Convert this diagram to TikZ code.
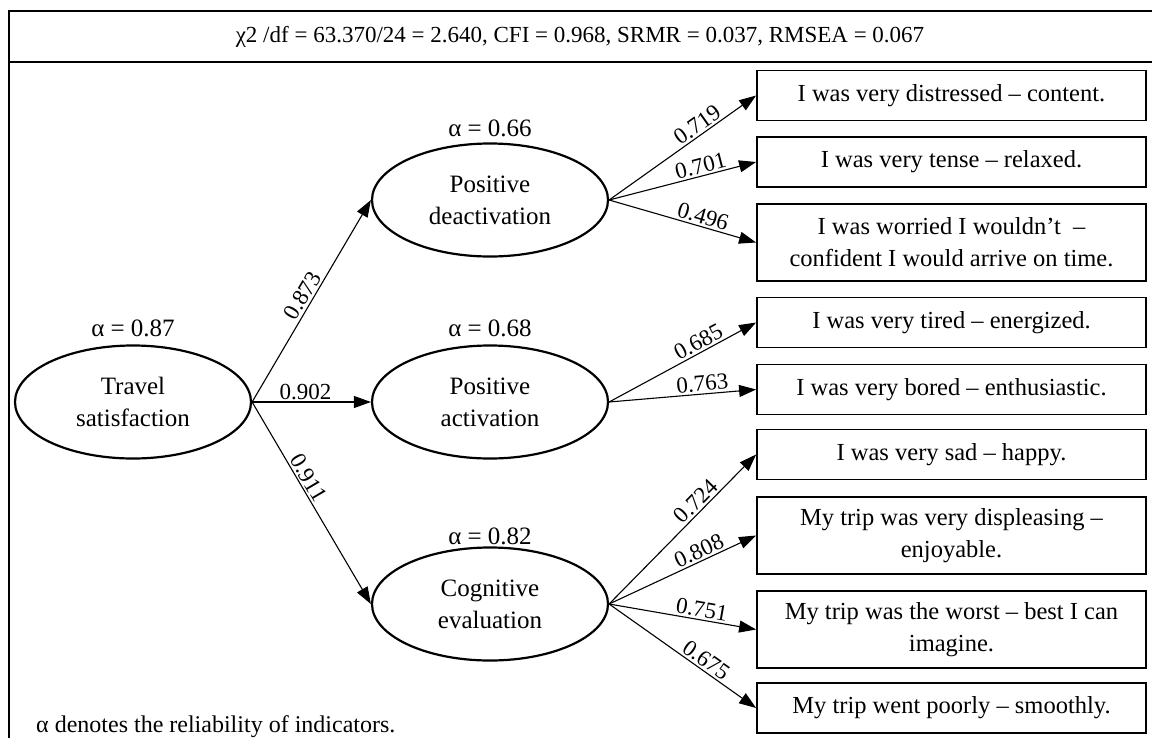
\documentclass[tikz,border=0pt]{standalone}
\usepackage{fontspec}
\setmainfont{Liberation Serif}
\usetikzlibrary{shapes.geometric,arrows.meta}

\begin{document}
\begin{tikzpicture}[x=1pt,y=-1pt,
  latent/.style={draw,ellipse,line width=2.2pt,minimum width=236pt,minimum height=113pt,
    inner sep=0pt,align=center,font=\fontsize{25}{32}\selectfont},
  item/.style={draw,rectangle,line width=1.8pt,minimum width=389pt,inner sep=0pt,
    align=center,font=\fontsize{24.5}{32}\selectfont},
  oneline/.style={item,minimum height=50pt},
  twoline/.style={item,minimum height=77pt},
  causal/.style={line width=1.1pt,-{Triangle[length=17pt,width=12pt]}},
  load/.style={font=\fontsize{23}{23}\selectfont,sloped,above,inner sep=2pt},
  rel/.style={font=\fontsize{25}{25}\selectfont,inner sep=0pt},
]
\useasboundingbox (0,0) rectangle (1152,737);
\clip (0,0) rectangle (1152,737);

% outer frame and fit-index header row
\draw[line width=2.5pt] (9,760) -- (9,11) -- (1170,11);
\draw[line width=1.8pt] (9,62) -- (1170,62);
\node[font=\fontsize{23}{23}\selectfont] (fit) at (580,37)
  {χ2 /df = 63.370/24 = 2.640, CFI = 0.968, SRMR = 0.037, RMSEA = 0.067};

% latent constructs
\node[latent] (ts) at (133,402) {Travel\\satisfaction};
\node[latent] (pd) at (490,200) {Positive\\deactivation};
\node[latent] (pa) at (490,402) {Positive\\activation};
\node[latent] (ce) at (490,604) {Cognitive\\evaluation};

% reliabilities
\node[rel] (rts) at (133,328) {α = 0.87};
\node[rel] (rpd) at (490,128) {α = 0.66};
\node[rel] (rpa) at (490,328) {α = 0.68};
\node[rel] (rce) at (490,536) {α = 0.82};

% indicators
\node[oneline] (i1) at (951.5,95.5)  {I was very distressed – content.};
\node[oneline] (i2) at (951.5,162)   {I was very tense – relaxed.};
\node[twoline] (i3) at (951.5,242.5) {I was worried I wouldn’t\ \ –\\confident I would arrive on time.};
\node[oneline] (i4) at (951.5,322.5) {I was very tired – energized.};
\node[oneline] (i5) at (951.5,389.5) {I was very bored – enthusiastic.};
\node[oneline] (i6) at (951.5,454.5) {I was very sad – happy.};
\node[twoline] (i7) at (951.5,535.5) {My trip was very displeasing –\\enjoyable.};
\node[twoline] (i8) at (951.5,629.5) {My trip was the worst – best I can\\imagine.};
\node[oneline] (i9) at (951.5,708)   {My trip went poorly – smoothly.};

% structural paths
\draw[causal] (ts.east) -- node[load,pos=0.5] {0.873} (pd.west);
\draw[causal] (ts.east) -- node[load,pos=0.45] {0.902} (pa.west);
\draw[causal] (ts.east) -- node[load,pos=0.4] {0.911} (ce.west);

% measurement paths
\draw[causal] (pd.east) -- node[load,pos=0.64] {0.719} (i1.west);
\draw[causal] (pd.east) -- node[load,pos=0.64] {0.701} (i2.west);
\draw[causal] (pd.east) -- node[load,pos=0.62] {0.496} (i3.west);
\draw[causal] (pa.east) -- node[load,pos=0.64] {0.685} (i4.west);
\draw[causal] (pa.east) -- node[load,pos=0.64] {0.763} (i5.west);
\draw[causal] (ce.east) -- node[load,pos=0.64] {0.724} (i6.west);
\draw[causal] (ce.east) -- node[load,pos=0.64] {0.808} (i7.west);
\draw[causal] (ce.east) -- node[load,pos=0.62] {0.751} (i8.west);
\draw[causal] (ce.east) -- node[load,pos=0.62] {0.675} (i9.west);

% note
\node[anchor=base west,font=\fontsize{24}{24}\selectfont,inner sep=0pt] (note) at (36,732)
  {α denotes the reliability of indicators.};
\end{tikzpicture}
\end{document}
